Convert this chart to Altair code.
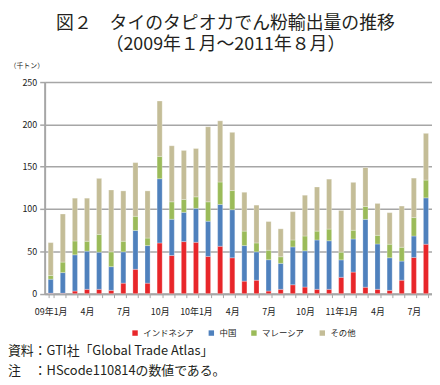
import altair as alt
import pandas as pd

tick_labels = ["09年1月", "", "", "4月", "", "", "7月", "", "", "10月", "", "",
               "10年1月", "", "", "4月", "", "", "7月", "", "", "10月", "", "",
               "11年1月", "", "", "4月", "", "", "7月", ""]
series = ["インドネシア", "中国", "マレーシア", "その他"]
colors = ["#e8262a", "#4f81bd", "#9bbb59", "#c4bd97"]

indonesia = [0.5, 0.5, 3.1, 5.1, 5.1, 3.9, 12.4, 28.8, 12.4, 59.9, 45.1, 61.5,
             60.7, 44.0, 56.0, 42.4, 14.8, 15.9, 3.1, 5.1, 10.5, 7.8, 5.1, 5.1,
             19.3, 25.5, 7.6, 5.1, 3.9, 15.9, 42.8, 58.4]
china = [16.6, 24.4, 42.8, 45.1, 43.9, 28.0, 37.0, 45.9, 44.4, 75.9, 42.8, 34.6,
         40.1, 41.6, 49.4, 56.8, 42.0, 33.5, 37.0, 30.7, 44.7, 42.8, 58.3, 57.4,
         20.6, 39.1, 80.2, 53.6, 38.5, 22.6, 25.3, 54.8]
malaysia = [4.3, 12.4, 16.3, 11.7, 21.0, 17.5, 12.5, 16.7, 8.9, 26.4, 20.6, 15.2,
            13.6, 22.9, 26.5, 22.6, 17.1, 10.5, 11.2, 7.8, 8.2, 17.5, 10.5, 13.8,
            9.1, 10.3, 15.2, 10.2, 16.0, 16.3, 21.8, 21.0]
other = [38.9, 56.8, 50.6, 50.9, 66.2, 73.1, 59.5, 63.4, 55.7, 65.4, 66.2, 57.9,
         57.1, 88.7, 72.3, 68.8, 45.9, 44.7, 33.9, 33.0, 33.5, 48.2, 52.1, 59.0,
         49.3, 56.6, 46.0, 37.7, 37.3, 48.7, 46.6, 55.2]

rows = []
for i in range(len(tick_labels)):
    for k, (name, vals) in enumerate(zip(series, [indonesia, china, malaysia, other])):
        rows.append({"m": i, "series": name, "value": vals[i], "ord": k})
df = pd.DataFrame(rows)

label_expr = "[" + ",".join("'" + t + "'" for t in tick_labels) + "][datum.value]"
FONT = "Noto Sans CJK JP"
GRID = "#a6a6a6"

bars = alt.Chart(df).mark_bar(stroke="#ffffff", strokeWidth=0.4, strokeOpacity=0.7).encode(
    x=alt.X("m:O",
            scale=alt.Scale(paddingInner=0.58, paddingOuter=0.29),
            axis=alt.Axis(title=None, labelExpr=label_expr, labelAngle=0, tickBand="extent",
                          domainColor=GRID, domainWidth=2, tickColor=GRID, tickWidth=1,
                          tickSize=4, labelFontSize=9, labelPadding=10, labelFont=FONT,
                          labelColor="#222222", grid=False)),
    y=alt.Y("value:Q", stack="zero",
            scale=alt.Scale(domain=[0, 250], nice=False),
            axis=alt.Axis(values=[0, 50, 100, 150, 200, 250], title="（千トン）",
                          titleAngle=0, titleAlign="left", titleBaseline="middle",
                          titleX=-36, titleY=-17, titleFont=FONT, titleFontSize=7,
                          titleFontWeight="normal", titleColor="#222222",
                          labelFont=FONT, labelFontSize=9, labelColor="#222222",
                          labelPadding=3, tickSize=5, tickColor=GRID, tickWidth=1.5,
                          domainColor=GRID, domainWidth=2,
                          grid=True, gridColor=GRID, gridWidth=1.5)),
    color=alt.Color("series:N", scale=alt.Scale(domain=series, range=colors),
                    legend=alt.Legend(title=None, orient="none", legendX=87, legendY=249,
                                      direction="horizontal", symbolType="square",
                                      symbolSize=30, symbolStrokeWidth=0, labelFont=FONT,
                                      labelFontSize=8.5, labelOffset=4, columnPadding=13,
                                      padding=0, labelColor="#222222")),
    order=alt.Order("ord:Q"),
)

foot1 = alt.Chart(pd.DataFrame({"t": ["資料：GTI社「Global Trade Atlas」"]})).mark_text(
    align="left", baseline="middle", font=FONT, fontSize=13, color="#231f20"
).encode(x=alt.value(-37), y=alt.value(272), text="t:N")
foot2 = alt.Chart(pd.DataFrame({"t": ["注　：HScode110814の数値である。"]})).mark_text(
    align="left", baseline="middle", font=FONT, fontSize=13, color="#231f20"
).encode(x=alt.value(-37), y=alt.value(292), text="t:N")

chart = alt.layer(bars, foot1, foot2).properties(
    width=391, height=213.6,
    padding={"top": 5, "left": 0, "right": 0, "bottom": 0},
    title=alt.TitleParams(text=["図２　タイのタピオカでん粉輸出量の推移", "（2009年１月～2011年８月）"],
                          font=FONT, fontSize=18, fontWeight="normal", color="#231f20",
                          anchor="middle", dx=-13, lineHeight=22, offset=7),
).configure_view(stroke=None).configure(background="#ffffff")

chart.save("out.html", embed_options={"renderer": "svg", "actions": False})
